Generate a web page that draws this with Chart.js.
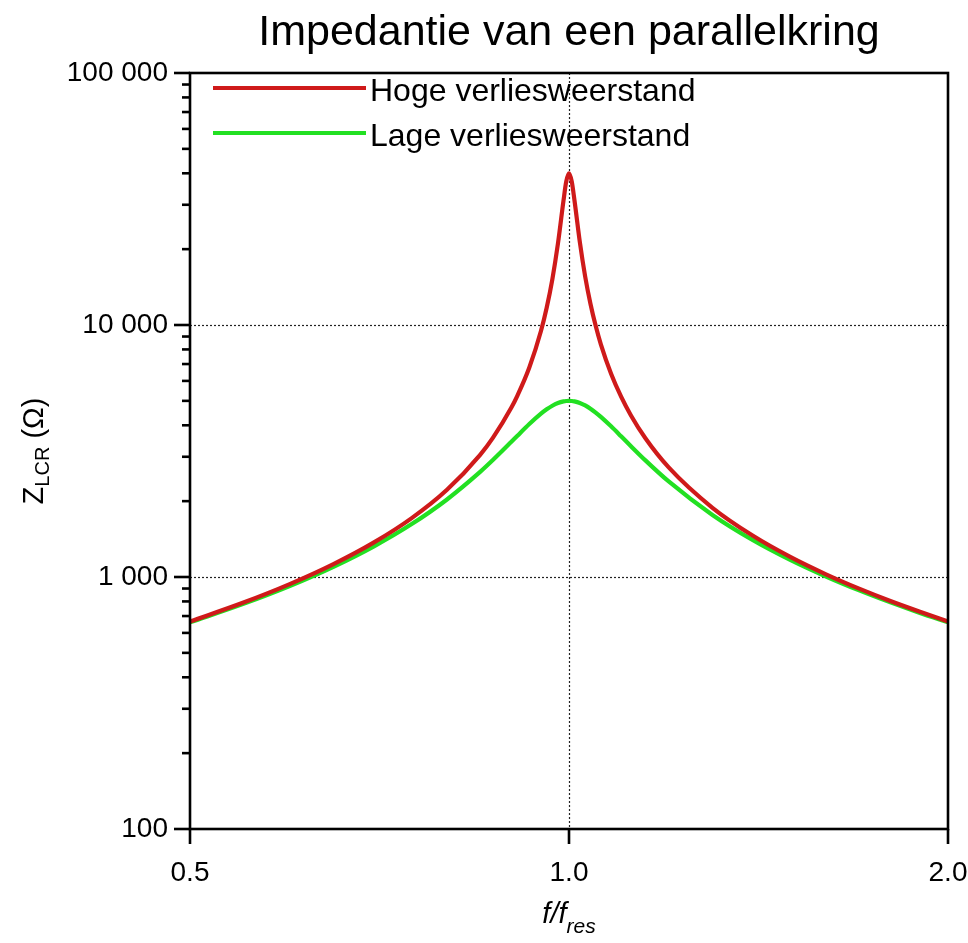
<!DOCTYPE html>
<html><head><meta charset="utf-8">
<script src="https://cdn.jsdelivr.net/npm/chart.js@4"></script>
<style>html,body{margin:0;padding:0;background:#fff}canvas{display:block}</style>
</head><body>
<canvas id="c" width="968" height="943" style="width:968px;height:943px"></canvas>
<script>
const chartTitle = 'Impedantie van een parallelkring';
const seriesNames = ['Hoge verliesweerstand', 'Lage verliesweerstand'];
const seriesColors = ['#cf1a1a', '#22e022'];
const freqRatio = [0.5, 0.55, 0.6, 0.65, 0.7, 0.75, 0.8, 0.85, 0.87, 0.9, 0.91, 0.93, 0.95, 0.96, 0.97, 0.98, 0.99, 0.995, 1.0, 1.005, 1.01, 1.02, 1.03, 1.04, 1.05, 1.06, 1.08, 1.1, 1.12, 1.15, 1.2, 1.3, 1.4, 1.5, 1.6, 1.7, 1.8, 1.9, 2.0];
const zHighLoss = [666, 788, 937, 1125, 1372, 1713, 2219, 3054, 3565, 4704, 5248, 6784, 9467, 11709, 15184, 21045, 31173, 37126, 40000, 37130, 31295, 21350, 15578, 12144, 9924, 8385, 6407, 5194, 4376, 3552, 2721, 1882, 1457, 1199, 1025, 899, 803, 728, 666];
const zLowLoss = [661, 779, 921, 1098, 1324, 1622, 2031, 2612, 2910, 3439, 3635, 4045, 4448, 4629, 4783, 4901, 4975, 4994, 5000, 4994, 4975, 4905, 4795, 4655, 4493, 4319, 3961, 3617, 3304, 2903, 2394, 1763, 1400, 1167, 1005, 885, 793, 720, 661];
const xTickValues = [0.5, 1, 2];
const xTickLabels = ['0.5', '1.0', '2.0'];
const yTickValues = [100, 1000, 10000, 100000];
const yTickLabels = ['100', '1 000', '10 000', '100 000'];
const yMinorMultipliers = [2, 3, 4, 5, 6, 7, 8, 9];
const xGridValues = [1];
const yGridValues = [1000, 10000];

const FONT = '"Liberation Sans", Arial, sans-serif';

const decor = {
  id: 'decor',
  beforeDatasetsDraw(chart) {
    const ctx = chart.ctx, a = chart.chartArea, xs = chart.scales.x, ys = chart.scales.y;
    ctx.save();
    ctx.strokeStyle = '#222';
    ctx.lineWidth = 1.2;
    ctx.setLineDash([2, 2]);
    yGridValues.forEach(v => {
      const y = Math.round(ys.getPixelForValue(v)) + 0.5;
      ctx.beginPath(); ctx.moveTo(a.left, y); ctx.lineTo(a.right, y); ctx.stroke();
    });
    xGridValues.forEach(v => {
      const x = Math.round(xs.getPixelForValue(v)) + 0.5;
      ctx.beginPath(); ctx.moveTo(x, a.top); ctx.lineTo(x, a.bottom); ctx.stroke();
    });
    ctx.restore();
  },
  afterDatasetsDraw(chart) {
    const ctx = chart.ctx, a = chart.chartArea, xs = chart.scales.x, ys = chart.scales.y;
    ctx.save();
    ctx.strokeStyle = '#000';
    ctx.lineWidth = 2.6;
    ctx.setLineDash([]);
    ctx.strokeRect(a.left, a.top, a.right - a.left, a.bottom - a.top);
    yTickValues.forEach((v, i) => {
      const y = ys.getPixelForValue(v);
      ctx.beginPath(); ctx.moveTo(a.left - 16, y); ctx.lineTo(a.left, y); ctx.stroke();
      if (i < yTickValues.length - 1) {
        yMinorMultipliers.forEach(m => {
          const yy = ys.getPixelForValue(v * m);
          ctx.beginPath(); ctx.moveTo(a.left - 8, yy); ctx.lineTo(a.left, yy); ctx.stroke();
        });
      }
    });
    xTickValues.forEach(v => {
      const x = xs.getPixelForValue(v);
      ctx.beginPath(); ctx.moveTo(x, a.bottom); ctx.lineTo(x, a.bottom + 15); ctx.stroke();
    });
    ctx.restore();
  },
  afterDraw(chart) {
    const ctx = chart.ctx, a = chart.chartArea;
    ctx.save();
    ctx.fillStyle = '#000';
    ctx.font = '43px ' + FONT;
    ctx.textAlign = 'center';
    ctx.textBaseline = 'alphabetic';
    ctx.fillText(chartTitle, (a.left + a.right) / 2, 45);
    ctx.textAlign = 'left';
    ctx.font = '32px ' + FONT;
    chart.data.datasets.forEach((ds, i) => {
      const y = 88 + i * 45;
      ctx.strokeStyle = ds.borderColor;
      ctx.lineWidth = 4;
      ctx.beginPath(); ctx.moveTo(213, y); ctx.lineTo(366, y); ctx.stroke();
      ctx.fillText(ds.label, 370, y + 13);
    });
    const cx = (a.left + a.right) / 2;
    ctx.font = 'italic 29px ' + FONT;
    const w1 = ctx.measureText('f/f').width;
    ctx.font = 'italic 21px ' + FONT;
    const w2 = ctx.measureText('res').width;
    let x0 = cx - (w1 + w2) / 2;
    ctx.font = 'italic 29px ' + FONT;
    ctx.fillText('f/f', x0, 923);
    ctx.font = 'italic 21px ' + FONT;
    ctx.fillText('res', x0 + w1, 933);
    ctx.translate(43, (a.top + a.bottom) / 2);
    ctx.rotate(-Math.PI / 2);
    ctx.font = '29px ' + FONT;
    const p1 = 'Z', p3 = ' (\u03A9)';
    const wa = ctx.measureText(p1).width, wc = ctx.measureText(p3).width;
    ctx.font = '20px ' + FONT;
    const wb = ctx.measureText('LCR').width;
    let s = -(wa + wb + wc) / 2;
    ctx.font = '29px ' + FONT;
    ctx.fillText(p1, s, 0);
    ctx.font = '20px ' + FONT;
    ctx.fillText('LCR', s + wa, 6);
    ctx.font = '29px ' + FONT;
    ctx.fillText(p3, s + wa + wb, 0);
    ctx.restore();
  }
};

const mkPoints = arr => freqRatio.map((f, i) => ({ x: f, y: arr[i] }));

new Chart(document.getElementById('c'), {
  type: 'line',
  data: {
    datasets: [
      { label: seriesNames[0], data: mkPoints(zHighLoss), borderColor: seriesColors[0], borderWidth: 4.2, pointRadius: 0, cubicInterpolationMode: 'monotone', fill: false, order: 0 },
      { label: seriesNames[1], data: mkPoints(zLowLoss), borderColor: seriesColors[1], borderWidth: 4.2, pointRadius: 0, cubicInterpolationMode: 'monotone', fill: false, order: 1 }
    ]
  },
  options: {
    responsive: false,
    animation: false,
    devicePixelRatio: 1,
    layout: { padding: { top: 73, right: 20, left: 0, bottom: 0 } },
    plugins: { legend: { display: false }, title: { display: false }, tooltip: { enabled: false } },
    scales: {
      x: {
        type: 'logarithmic', min: 0.5, max: 2,
        afterBuildTicks: s => { s.ticks = xTickValues.map(v => ({ value: v })); },
        afterFit: s => { s.height = 114; s.paddingLeft = 0; s.paddingRight = 0; },
        grid: { display: false, drawTicks: false },
        border: { display: false },
        ticks: { autoSkip: false, maxRotation: 0, color: '#000', padding: 27,
          font: { size: 28, family: FONT },
          callback: (v, i) => xTickLabels[i] }
      },
      y: {
        type: 'logarithmic', min: 100, max: 100000,
        afterBuildTicks: s => { s.ticks = yTickValues.map(v => ({ value: v })); },
        afterFit: s => { s.width = 190; s.paddingTop = 0; s.paddingBottom = 0; },
        grid: { display: false, drawTicks: false },
        border: { display: false },
        ticks: { autoSkip: false, color: '#000', padding: 22,
          font: { size: 28, family: FONT },
          callback: (v, i) => yTickLabels[i] }
      }
    }
  },
  plugins: [decor]
});
</script>
</body></html>
